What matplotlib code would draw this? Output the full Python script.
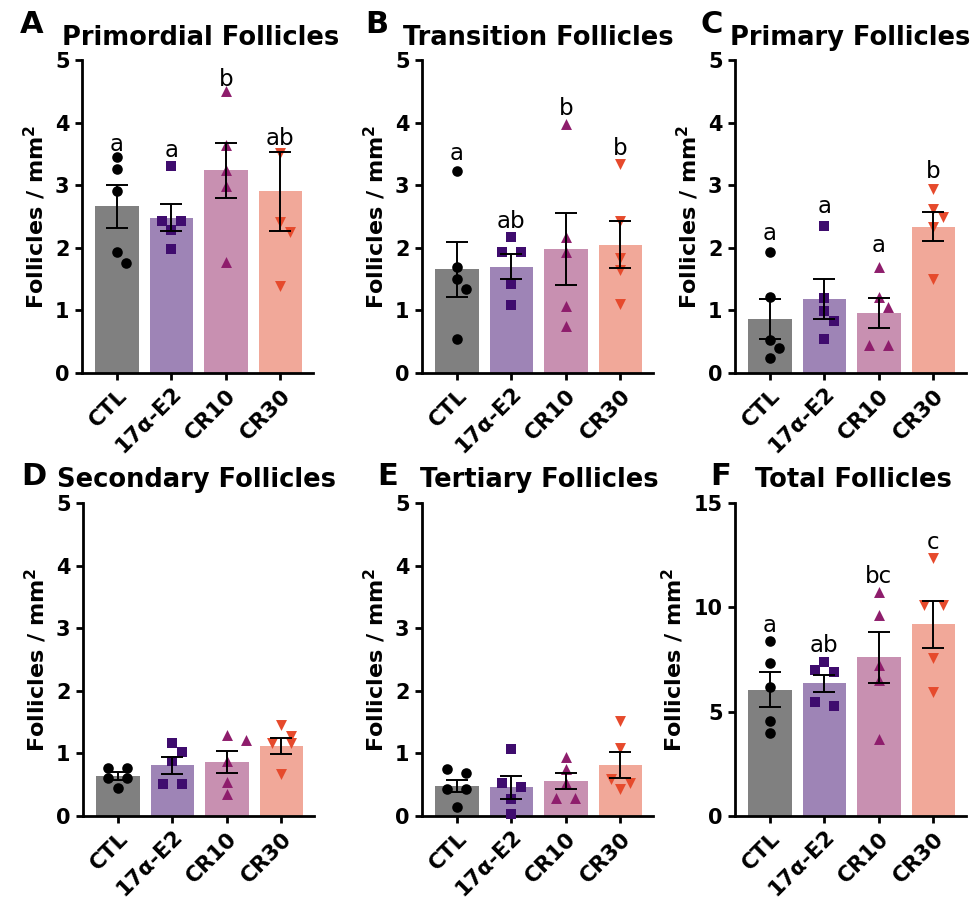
import numpy as np
import matplotlib
matplotlib.use('Agg')
import matplotlib.pyplot as plt

plt.rcParams['font.family'] = 'DejaVu Sans'
plt.rcParams['mathtext.default'] = 'regular'

################## data ##################
groups = ['CTL', r'17$\alpha$-E2', 'CR10', 'CR30']

# A  primordial
prim_pts = [[3.45, 3.26, 2.90, 1.94, 1.76],
            [3.30, 2.43, 2.43, 2.29, 1.98],
            [4.51, 3.65, 3.24, 2.99, 1.78],
            [3.51, 2.41, 2.26, 1.39]]
prim_mean = [2.66, 2.48, 3.24, 2.90]
prim_sem = [0.345, 0.215, 0.44, 0.63]
prim_sig = ['a', 'a', 'b', 'ab']
prim_sig_y = [3.55, 3.45, 4.59, 3.65]

# B  transition
trans_pts = [[3.22, 1.70, 1.50, 1.34, 0.55],
             [2.18, 1.94, 1.94, 1.42, 1.08],
             [3.97, 2.18, 1.94, 1.07, 0.75],
             [3.34, 2.43, 1.84, 1.64, 1.10]]
trans_mean = [1.66, 1.70, 1.98, 2.05]
trans_sem = [0.44, 0.20, 0.57, 0.38]
trans_sig = ['a', 'ab', 'b', 'b']
trans_sig_y = [3.40, 2.32, 4.12, 3.48]

# C  primary
prim2_pts = [[1.94, 1.22, 0.53, 0.40, 0.24],
             [2.35, 1.20, 0.99, 0.83, 0.55],
             [1.70, 1.22, 1.05, 0.45, 0.44],
             [2.94, 2.62, 2.49, 2.33, 1.50]]
prim2_mean = [0.86, 1.18, 0.96, 2.34]
prim2_sem = [0.32, 0.315, 0.235, 0.235]
prim2_sig = ['a', 'a', 'a', 'b']
prim2_sig_y = [2.12, 2.55, 1.93, 3.12]

# D  secondary
sec_pts = [[0.77, 0.77, 0.60, 0.60, 0.44],
           [1.17, 1.02, 0.88, 0.51, 0.51],
           [1.29, 1.21, 0.88, 0.54, 0.35],
           [1.45, 1.28, 1.17, 1.17, 0.67]]
sec_mean = [0.64, 0.81, 0.86, 1.12]
sec_sem = [0.065, 0.135, 0.18, 0.125]

# E  tertiary
ter_pts = [[0.745, 0.68, 0.43, 0.43, 0.15],
           [1.075, 0.52, 0.47, 0.27, 0.03],
           [0.95, 0.755, 0.53, 0.28, 0.28],
           [1.52, 1.09, 0.585, 0.53, 0.425]]
ter_mean = [0.48, 0.46, 0.56, 0.81]
ter_sem = [0.10, 0.185, 0.13, 0.21]

# F  total
tot_pts = [[8.41, 7.34, 6.18, 4.55, 3.99],
           [7.36, 7.02, 6.88, 5.44, 5.25],
           [10.72, 9.65, 7.26, 6.54, 3.70],
           [12.37, 10.1, 10.1, 7.58, 5.95]]
tot_mean = [6.06, 6.36, 7.61, 9.18]
tot_sem = [0.855, 0.42, 1.22, 1.115]
tot_sig = ['a', 'ab', 'bc', 'c']
tot_sig_y = [8.81, 7.87, 11.17, 12.8]

bar_colors = ['#808080', '#9e84b6', '#c890b1', '#f1a899']
pt_colors = ['#000000', '#3f0c6e', '#8e1d6c', '#e64a2c']
pt_markers = ['o', 's', '^', 'v']
pt_sizes = [58, 46, 62, 62]

W, H = 972.0, 901.0

def swarm(ax, vals, step=9.5, dmin=11.5, tie=5.0):
    # simple beeswarm in pixel space, returns x offsets in data units
    t = ax.transData
    px_x = t.transform((1, 0))[0] - t.transform((0, 0))[0]
    px_y = t.transform((0, 1))[1] - t.transform((0, 0))[1]
    ys = np.array(vals, dtype=float) * px_y
    order = np.argsort(-ys, kind='stable')
    clusters = []
    for i in order:
        if clusters and ys[clusters[-1][-1]] - ys[i] < tie:
            clusters[-1].append(i)
        else:
            clusters.append([i])
    offs = np.zeros(len(vals))
    placed = []
    for c in clusters:
        k = len(c)
        if k > 1:
            for j, i in enumerate(c):
                offs[i] = (j - (k - 1) / 2.0) * 2 * step
                placed.append((offs[i], ys[i]))
            continue
        i = c[0]
        for cand in [0, step, -step, 2 * step, -2 * step, 3 * step, -3 * step]:
            if all(np.hypot(cand - px, ys[i] - py) >= dmin for px, py in placed):
                offs[i] = cand
                break
        placed.append((offs[i], ys[i]))
    return offs / px_x

def drawPanel(left, top, letter, title, letter_x, title_x, letter_base, title_base,
              pts, means, sems, ymax, yticks, sig=None, sig_y=None):
    bottom_px = top + 313
    ax = fig.add_axes([left / W, 1 - bottom_px / H, 231 / W, 313 / H])
    x = np.arange(4)
    ax.set_xlim(-0.64, 3.6)
    ax.set_ylim(0, ymax)
    ax.bar(x, means, width=0.8, color=bar_colors, zorder=1)
    for i in range(4):
        dx = swarm(ax, pts[i])
        ax.scatter(x[i] + dx, pts[i], s=pt_sizes[i], marker=pt_markers[i],
                   color=pt_colors[i], linewidths=0, zorder=3, clip_on=False)
    ax.errorbar(x, means, yerr=sems, fmt='none', ecolor='black', elinewidth=1.4,
                capsize=8, capthick=1.4, zorder=4)
    if sig is not None:
        for i in range(4):
            ax.text(x[i], sig_y[i], sig[i], ha='center', va='baseline', fontsize=16.5)
    for s in ['top', 'right']:
        ax.spines[s].set_visible(False)
    for s in ['left', 'bottom']:
        ax.spines[s].set_linewidth(2.0)
    ax.set_yticks(yticks)
    ax.set_yticklabels([str(v) for v in yticks], fontsize=15, fontweight='bold')
    ax.set_xticks(x)
    ax.set_xticklabels(groups, rotation=45, ha='right', rotation_mode='anchor',
                       fontsize=15.5, fontweight='bold')
    ax.tick_params(axis='both', direction='out', length=5, width=2.0, pad=4)
    ax.set_ylabel(r'Follicles / mm$^\mathbf{2}$', fontsize=16, fontweight='bold', labelpad=5)
    fig.text(letter_x / W, 1 - letter_base / H, letter, fontsize=22, fontweight='bold',
             va='baseline', ha='left')
    fig.text(title_x / W, 1 - title_base / H, title, fontsize=18.5, fontweight='bold',
             va='baseline', ha='left')
    return ax

fig = plt.figure(figsize=(9.72, 9.01), dpi=100)

drawPanel(82, 60, 'A', 'Primordial Follicles', 20, 62, 33, 45,
          prim_pts, prim_mean, prim_sem, 5, [0, 1, 2, 3, 4, 5], prim_sig, prim_sig_y)
drawPanel(422, 60, 'B', 'Transition Follicles', 365, 403, 33, 45,
          trans_pts, trans_mean, trans_sem, 5, [0, 1, 2, 3, 4, 5], trans_sig, trans_sig_y)
drawPanel(735, 60, 'C', 'Primary Follicles', 700, 730, 33, 45,
          prim2_pts, prim2_mean, prim2_sem, 5, [0, 1, 2, 3, 4, 5], prim2_sig, prim2_sig_y)
drawPanel(83, 503, 'D', 'Secondary Follicles', 21, 57, 485, 487,
          sec_pts, sec_mean, sec_sem, 5, [0, 1, 2, 3, 4, 5])
drawPanel(422, 503, 'E', 'Tertiary Follicles', 377, 420, 485, 487,
          ter_pts, ter_mean, ter_sem, 5, [0, 1, 2, 3, 4, 5])
drawPanel(735, 503, 'F', 'Total Follicles', 710, 755, 485, 487,
          tot_pts, tot_mean, tot_sem, 15, [0, 5, 10, 15], tot_sig, tot_sig_y)

fig.savefig('out.png', dpi=100)
